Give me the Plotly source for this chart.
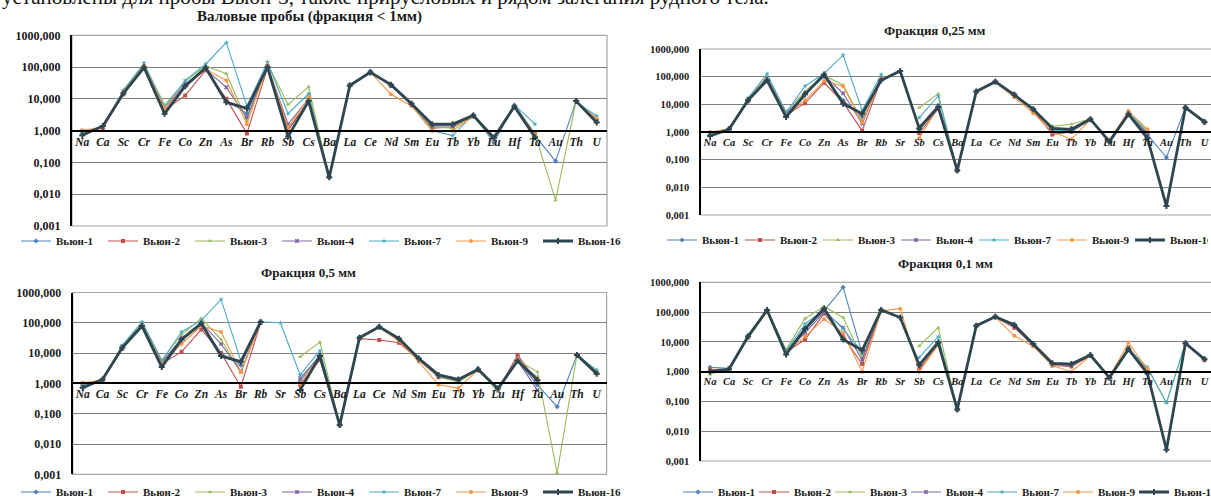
import plotly.graph_objects as go

# Element order on the horizontal axis
ELEMENTS_A = ["Na", "Ca", "Sc", "Cr", "Fe", "Co", "Zn", "As", "Br", "Rb", "Sb", "Cs", "Ba",
              "La", "Ce", "Nd", "Sm", "Eu", "Tb", "Yb", "Lu", "Hf", "Ta", "Au", "Th", "U"]
ELEMENTS_B = ["Na", "Ca", "Sc", "Cr", "Fe", "Co", "Zn", "As", "Br", "Rb", "Sr", "Sb", "Cs", "Ba",
              "La", "Ce", "Nd", "Sm", "Eu", "Tb", "Yb", "Lu", "Hf", "Ta", "Au", "Th", "U"]

SAMPLES = ["Вьюн-1", "Вьюн-2", "Вьюн-3", "Вьюн-4", "Вьюн-7", "Вьюн-9", "Вьюн-16"]

# Bulk samples (fraction < 1 mm)
BULK = {
    "Вьюн-1":  [0.85, 1.3, 16, 105, 4.0, 28, 90, 9, 3.5, 110, 1.0, 9, 0.034, 28, 75, 27, 6.5, 1.4, 1.5, 3.1, 0.43, 6.0, 0.7, 0.11, 8.5, 2.2],
    "Вьюн-2":  [1.0, 1.2, 14, 90, 4.5, 12.7, 80, 10, 0.82, 95, 1.1, 8, 0.035, 27, 70, 26, 6.5, 1.2, 1.3, 2.9, 0.55, 5.5, 0.75, None, 8, 2.0],
    "Вьюн-3":  [0.9, 1.3, 18, 120, 6.5, 35, 110, 62, 2.0, 130, 6.6, 24, 0.035, 27, 70, 27, 6.8, 1.3, 1.2, 2.9, 0.5, 6.5, 0.8, 0.0065, 8.5, 2.4],
    "Вьюн-4":  [0.9, 1.3, 16, 100, 5.0, 30, 85, 23, 2.6, 110, 1.6, 10, 0.034, 27, 70, 27, 7, 1.4, 1.4, 3.0, 0.55, 6.0, 0.8, None, 8.5, 2.2],
    "Вьюн-7":  [0.85, 1.3, 19, 135, 5.5, 38, 125, 590, 6.0, 145, 3.4, 14.5, 0.035, 28, 72, 28, 6.8, 1.0, 0.7, 3.2, 0.5, 6.5, 1.6, None, 8.0, 2.9],
    "Вьюн-9":  [1.0, 1.3, 17, 110, 5.0, 25, 85, 38, 1.6, 120, 1.2, 11, 0.035, 27, 68, 14, 6.0, 1.0, 1.0, 2.8, 0.55, 5.5, 0.75, None, 8, 2.4],
    "Вьюн-16": [0.72, 1.4, 15, 98, 3.4, 25, 95, 7.8, 5.0, 100, 0.65, 8.5, 0.034, 26, 68, 28, 7.0, 1.6, 1.6, 3.0, 0.6, 5.8, 0.62, None, 8.5, 1.8],
}

# Fraction 0.25 mm
FRAC_025 = {
    "Вьюн-1":  [0.85, 1.3, 15, 90, 4, 25, 100, 14, 3.5, 100, None, 1.2, 9, 0.042, 30, 68, 23, 6.5, 1.2, 1.1, 2.9, 0.45, 4.5, 0.8, 0.12, 7.8, 2.4],
    "Вьюн-2":  [0.9, 1.2, 13, 70, 4.0, 11, 60, 12, 1.1, 80, None, 0.9, 7, 0.041, 28, 64, 21, 6.0, 0.82, 1.0, 2.8, 0.5, 4.8, 0.9, None, 7.5, 2.2],
    "Вьюн-3":  [0.95, 1.3, 16, 100, 5.5, 30, 110, 50, 2.5, 100, None, 7.5, 24, 0.042, 29, 66, 22, 6.8, 1.6, 1.9, 3.0, 0.5, 5.0, 1.2, None, 7.8, 2.5],
    "Вьюн-4":  [0.9, 1.3, 15, 90, 4.5, 25, 110, 25, 2.0, 90, None, 1.6, 9, 0.041, 29, 66, 22, 6.5, 1.3, 1.3, 2.9, 0.45, 4.5, 0.8, None, 7.6, 2.3],
    "Вьюн-7":  [0.85, 1.3, 17, 128, 5.0, 46, 130, 600, 6.0, 120, None, 3.3, 20, 0.042, 30, 68, 23, 6.8, 1.2, 1.0, 3.0, 0.45, 4.8, 1.0, None, 8, 2.5],
    "Вьюн-9":  [1.0, 1.3, 15, 80, 4.0, 14, 70, 45, 2.2, 85, None, 0.6, 8, 0.041, 28, 64, 18, 4.8, 1.0, 0.55, 2.8, 0.5, 5.7, 1.25, None, 7.5, 2.3],
    "Вьюн-16": [0.72, 1.25, 14, 74, 3.5, 23, 120, 10.5, 4.6, 74, 160, 1.35, 8, 0.041, 29, 66, 22, 6.6, 1.35, 1.25, 2.9, 0.45, 4.4, 0.59, 0.0021, 7.6, 2.3],
}

# Fraction 0.5 mm
FRAC_05 = {
    "Вьюн-1":  [0.85, 1.3, 16, 90, 4.2, 30, 90, 10, 4.0, 110, None, 1.2, 9, 0.042, 33, 75, 29, 6.5, 1.8, 1.2, 3.0, 0.6, 5.5, 0.9, 0.17, 8.5, 2.3],
    "Вьюн-2":  [1.0, 1.2, 14, 75, 4.5, 11, 60, 10, 0.78, 100, None, 0.9, 6, 0.042, 30, 27, 22, 6.0, 1.6, 1.2, 2.8, 0.6, 8.6, 1.1, None, 8.3, 2.2],
    "Вьюн-3":  [0.95, 1.3, 17, 107, 6, 40, 140, 28, 2.2, 110, None, 7.6, 23, 0.043, 32, 72, 29, 6.5, 1.7, 1.1, 2.9, 0.55, 5.8, 2.4, 0.0011, 8.6, 2.5],
    "Вьюн-4":  [0.9, 1.3, 16, 85, 5, 30, 100, 20, 2.5, 105, None, 1.5, 8, 0.042, 32, 72, 29, 6.5, 1.8, 1.3, 2.9, 0.65, 5.5, 0.6, None, 8.5, 2.2],
    "Вьюн-7":  [0.85, 1.3, 18, 107, 5.5, 50, 120, 590, 5.5, 107, 100, 1.9, 12, 0.043, 34, 76, 30, 6.8, 1.8, 1.3, 3.2, 0.55, 5.6, 1.6, None, 8.5, 2.8],
    "Вьюн-9":  [1.05, 1.3, 15, 85, 4.5, 20, 80, 50, 2.4, 100, None, 1.0, 8, 0.042, 30, 70, 25, 5.2, 0.9, 0.7, 2.8, 0.6, 6.0, 1.5, None, 8.2, 2.3],
    "Вьюн-16": [0.72, 1.35, 15, 78, 3.5, 28, 95, 8, 5.2, 107, None, 0.6, 8, 0.042, 32, 74, 30, 6.6, 1.9, 1.35, 2.9, 0.68, 5.6, 1.3, None, 8.6, 2.1],
}

# Fraction 0.1 mm
FRAC_01 = {
    "Вьюн-1":  [1.4, 1.3, 16, 110, 4.5, 30, 110, 680, 4.0, 110, None, 1.5, 9, 0.055, 35, 72, 35, 8, 1.8, 1.6, 3.5, 0.6, 5.5, 1.0, None, 8.8, 2.7],
    "Вьюн-2":  [1.2, 1.2, 14, 105, 4.5, 12, 90, 15, 1.8, 110, None, 1.2, 8, 0.054, 34, 68, 30, 7.5, 1.6, 1.5, 3.4, 0.65, 6.5, 1.1, None, 8.5, 2.5],
    "Вьюн-3":  [0.8, 1.3, 17, 120, 5.5, 61, 155, 66, 3.0, 120, None, 7.3, 30, 0.055, 36, 72, 36, 8.5, 2.0, 1.9, 3.6, 0.6, 6.0, 1.3, 0.09, 9, 2.7],
    "Вьюн-4":  [1.1, 1.3, 15, 110, 4.8, 20, 100, 30, 2.5, 115, None, 1.5, 9, 0.054, 35, 70, 35, 8.2, 1.8, 1.7, 3.5, 0.6, 5.6, 0.9, None, 9, 2.6],
    "Вьюн-7":  [1.0, 1.3, 17, 120, 5.0, 40, 120, 27, 4.5, 120, None, 3.0, 15, 0.055, 36, 72, 40, 8.5, 1.9, 1.8, 3.6, 0.6, 5.8, 1.4, 0.09, 9.2, 2.8],
    "Вьюн-9":  [1.0, 1.2, 14, 100, 4.5, 15, 58, 20, 1.0, 110, 130, 1.0, 8, 0.054, 34, 68, 16, 7, 1.6, 1.0, 3.4, 0.65, 9.5, 1.2, None, 8.8, 2.6],
    "Вьюн-16": [1.0, 1.2, 15, 117, 3.8, 27, 133, 12, 5.2, 117, 66, 1.7, 9.5, 0.054, 35, 70, 37, 8.4, 1.9, 1.8, 3.6, 0.63, 5.7, 0.86, 0.0024, 9.0, 2.6],
}

Y_TICKS = [0.001, 0.01, 0.1, 1, 10, 100, 1000]
Y_TICK_TEXT = ["0,001", "0,010", "0,100", "1,000", "10,000", "100,000", "1000,000"]

COLORS = {
    "Вьюн-1": "#4F81BD", "Вьюн-2": "#C0504D", "Вьюн-3": "#9BBB59", "Вьюн-4": "#8064A2",
    "Вьюн-7": "#4BACC6", "Вьюн-9": "#F79646", "Вьюн-16": "#2E4650",
}
SYMBOLS = {
    "Вьюн-1": "diamond", "Вьюн-2": "square", "Вьюн-3": "triangle-up", "Вьюн-4": "x",
    "Вьюн-7": "star", "Вьюн-9": "circle", "Вьюн-16": "cross",
}

W, H = 1211, 500
SERIF = "Liberation Serif, Times New Roman, serif"
LEGEND_PAD = 45  # symbol + gaps that plotly adds to each legend entry

# panel geometry in pixels: plot box, title centre, legend anchor and entry spacing
PANELS = [
    dict(title="Валовые пробы (фракция < 1мм)", cats=ELEMENTS_A, data=BULK,
         box=(72, 607, 35.3, 226), title_xy=(310, 16), title_size=15, legend_xy=(16, 241), entry=87,
         ytick=12, xtick=11.5),
    dict(title="Фракция 0,25 мм", cats=ELEMENTS_B, data=FRAC_025,
         box=(700.5, 1214, 49, 215), title_xy=(935, 30), title_size=13, legend_xy=(662, 240), entry=78,
         ytick=10.5, xtick=10.5),
    dict(title="Фракция 0,5 мм", cats=ELEMENTS_B, data=FRAC_05,
         box=(72.8, 606.6, 292.5, 474.3), title_xy=(308, 272), title_size=13, legend_xy=(16, 492), entry=87,
         ytick=12, xtick=11.5),
    dict(title="Фракция 0,1 мм", cats=ELEMENTS_B, data=FRAC_01,
         box=(700.5, 1214, 282.3, 461), title_xy=(945, 263), title_size=13, legend_xy=(678, 492), entry=76,
         ytick=10.5, xtick=10.5),
]

fig = go.Figure()
layout = dict(
    width=W, height=H, margin=dict(l=0, r=0, t=0, b=0, autoexpand=False),
    paper_bgcolor="white", plot_bgcolor="white", showlegend=True,
    font=dict(family=SERIF, color="#1a1a1a"),
)
annotations = []
shapes = []

for i, p in enumerate(PANELS, start=1):
    sfx = "" if i == 1 else str(i)
    xa, ya = "x" + sfx, "y" + sfx
    lg = "legend" if i == 1 else "legend" + str(i)
    x0, x1, y0, y1 = p["box"]
    n = len(p["cats"])
    # panels on the right run past the page edge; trim the visible range accordingly
    vis_x1 = min(x1, W)
    r_hi = -0.5 + n * (vis_x1 - x0) / (x1 - x0)
    dom_x = [x0 / W, vis_x1 / W]
    dom_y = [1 - y1 / H, 1 - y0 / H]
    mid_y = (dom_y[0] + dom_y[1]) / 2  # the value 1 sits in the middle of the 1e-3..1e3 range

    for s in SAMPLES:
        main = s == "Вьюн-16"
        fig.add_trace(go.Scatter(
            x=p["cats"], y=p["data"][s], name=s, mode="lines+markers",
            xaxis=xa, yaxis=ya, legend=lg, connectgaps=False,
            line=dict(color=COLORS[s], width=2.8 if main else 1.1),
            marker=dict(symbol=SYMBOLS[s], size=5 if main else 4, color=COLORS[s]),
        ))

    layout["xaxis" + sfx] = dict(
        domain=dom_x, type="category", categoryorder="array", categoryarray=p["cats"],
        range=[-0.5, r_hi], anchor="free", position=mid_y,
        showline=True, linecolor="#000000", linewidth=2.4, showgrid=False,
        ticks="", tickangle=0,
        tickfont=dict(family=SERIF, size=p["xtick"], color="#1a1a1a", weight="bold", style="italic"),
        fixedrange=True,
    )
    layout["yaxis" + sfx] = dict(
        domain=dom_y, type="log", range=[-3, 3], anchor=xa,
        tickvals=Y_TICKS, ticktext=Y_TICK_TEXT, ticks="", ticklabelstandoff=7,
        tickfont=dict(family=SERIF, size=p["ytick"], color="#1a1a1a", weight="bold"),
        showline=True, linecolor="#000000", linewidth=2.2,
        showgrid=True, gridcolor="#7f7f7f", gridwidth=1.3, zeroline=False,
        fixedrange=True,
    )
    shapes.append(dict(type="rect", xref=xa + " domain", yref=ya + " domain",
                       x0=0, x1=1 if x1 <= W else 1.01, y0=0, y1=1,
                       line=dict(color="#A6A6A6", width=1.2), layer="below"))
    annotations.append(dict(
        text="<b>" + p["title"] + "</b>", xref="paper", yref="paper",
        x=p["title_xy"][0] / W, y=1 - p["title_xy"][1] / H, xanchor="center", yanchor="middle",
        showarrow=False, font=dict(family=SERIF, size=p["title_size"], color="#1a1a1a"),
    ))
    layout[lg] = dict(
        orientation="h", x=p["legend_xy"][0] / W, y=1 - p["legend_xy"][1] / H,
        xanchor="left", yanchor="middle", bgcolor="rgba(0,0,0,0)",
        font=dict(family=SERIF, size=11, color="#1a1a1a", weight="bold"),
        itemwidth=30, entrywidth=p["entry"] - LEGEND_PAD, entrywidthmode="pixels",
        tracegroupgap=0, itemclick=False, itemdoubleclick=False,
    )

# running text of the page above the charts
annotations.append(dict(
    text="установлены для пробы Вьюн-3, также прирусловых и рядом залегания рудного тела.",
    xref="paper", yref="paper", x=0, y=1 - 11 / H, xanchor="left", yanchor="bottom",
    showarrow=False, font=dict(family=SERIF, size=21, color="#111111"),
))

layout["annotations"] = annotations
layout["shapes"] = shapes
fig.update_layout(**layout)
fig.write_html("out.html")
